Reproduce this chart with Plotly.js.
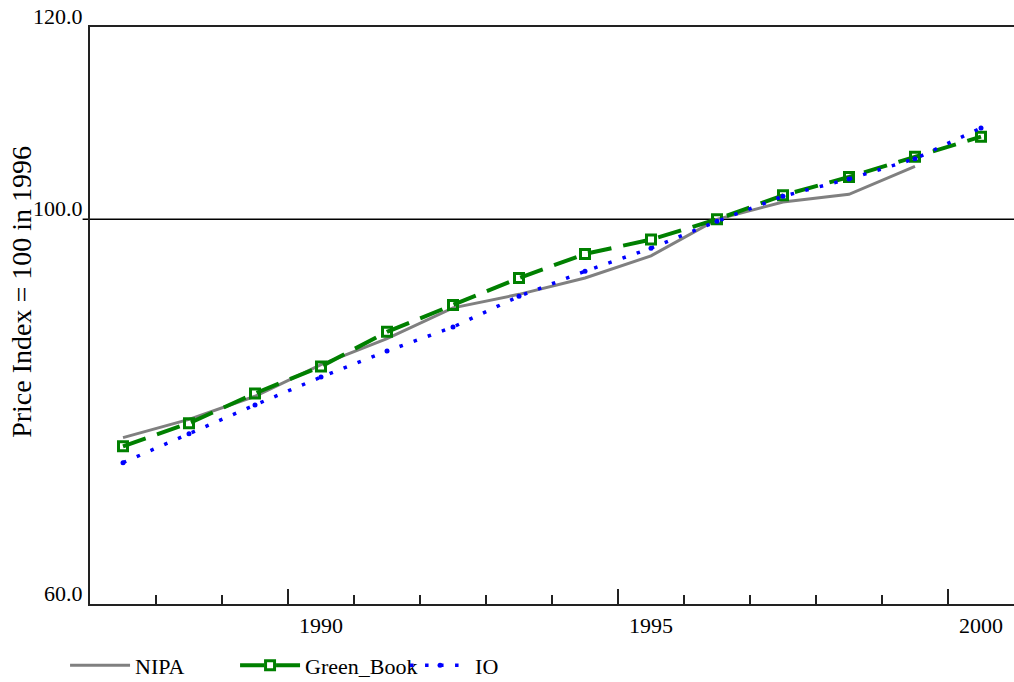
<!DOCTYPE html>
<html>
<head>
<meta charset="utf-8">
<script src="https://cdn.plot.ly/plotly-3.0.1.min.js"></script>
<style>html,body{margin:0;padding:0;background:#fff;}#chart{width:1014px;height:682px;}</style>
</head>
<body>
<div id="chart"></div>
<script>
// Data (annual price indexes, 1996 = 100)
const years = [1987, 1988, 1989, 1990, 1991, 1992, 1993, 1994, 1995, 1996, 1997, 1998, 1999, 2000];
const nipa = [77.3, 79.2, 81.6, 84.9, 87.6, 90.8, 92.2, 93.9, 96.2, 100.0, 101.8, 102.6, 105.5, null];
const greenBook = [76.4, 78.8, 81.9, 84.7, 88.3, 91.1, 93.9, 96.4, 97.9, 100.0, 102.5, 104.4, 106.5, 108.6];
const io = [74.7, 77.7, 80.7, 83.6, 86.3, 88.8, 92.0, 94.6, 97.0, 99.8, 102.4, 104.2, 106.3, 109.5];
const xTickYears = ["1990", "1995", "2000"];
const yTicks = [60, 100, 120];
const yTickLabels = ["60.0", "100.0", "120.0"];
const seriesNames = ["NIPA", "Green_Book", "IO"];
const yTitle = "Price Index = 100 in 1996";

const serif = "Liberation Serif, Times New Roman, serif";

const traces = [
  {
    x: years, y: nipa, name: seriesNames[0], type: "scatter", mode: "lines",
    line: {color: "#808080", width: 3}
  },
  {
    x: years, y: greenBook, name: seriesNames[1], type: "scatter", mode: "lines+markers",
    line: {color: "#008000", width: 4, dash: "24px,12px"},
    marker: {symbol: "square-open", size: 9, color: "#008000", line: {width: 3, color: "#008000"}}
  },
  {
    x: years, y: io, name: seriesNames[2], type: "scatter", mode: "lines+markers",
    line: {color: "#0000ff", width: 3.5, dash: "3.5px,11.5px"},
    marker: {symbol: "circle", size: 5, color: "#0000ff"}
  }
];

const layout = {
  width: 1014, height: 682,
  margin: {l: 90, r: 0, t: 27, b: 78, autoexpand: false},
  paper_bgcolor: "#ffffff", plot_bgcolor: "#ffffff",
  font: {family: serif, color: "#000000", size: 22},
  showlegend: true,
  legend: {
    orientation: "h", x: -0.027, xanchor: "left", y: -0.07, yanchor: "top",
    font: {family: serif, size: 22, color: "#000000"},
    entrywidth: 95, entrywidthmode: "pixels", itemwidth: 60,
    bgcolor: "rgba(0,0,0,0)"
  },
  xaxis: {
    range: [1986.5, 2000.5], showgrid: false, zeroline: false,
    showline: true, linecolor: "#222222", linewidth: 2, mirror: true,
    tickmode: "array", tickvals: [1989.5, 1994.5, 1999.5], ticktext: xTickYears,
    ticks: "inside", ticklen: 15, tickwidth: 1.5, tickcolor: "#222222",
    ticklabelshift: 33, ticklabelstandoff: 1,
    tickfont: {family: serif, size: 22, color: "#000000"},
    minor: {tick0: 1986.5, dtick: 1, ticks: "inside", ticklen: 9, tickwidth: 1.5, tickcolor: "#222222", showgrid: false}
  },
  yaxis: {
    range: [60, 120], showgrid: false, zeroline: false,
    showline: true, linecolor: "#222222", linewidth: 2, mirror: false,
    tickmode: "array", tickvals: yTicks, ticktext: yTickLabels,
    ticks: "", ticklabelshift: -11, ticklabelstandoff: 1,
    tickfont: {family: serif, size: 22, color: "#000000"}
  },
  annotations: [
    {text: yTitle, xref: "paper", yref: "paper", x: -0.0736, y: 0.541,
     xanchor: "center", yanchor: "middle", textangle: -90, showarrow: false,
     font: {family: serif, size: 28, color: "#000000"}}
  ],
  shapes: [
    {type: "line", xref: "paper", yref: "y", x0: -0.008, x1: 1, y0: 100, y1: 100,
     line: {color: "#000000", width: 1.5}, layer: "below"}
  ]
};

Plotly.newPlot("chart", traces, layout, {displayModeBar: false, staticPlot: true});
</script>
</body>
</html>
